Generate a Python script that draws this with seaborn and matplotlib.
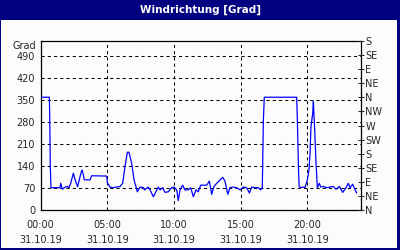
import matplotlib
matplotlib.use("Agg")
import matplotlib.pyplot as plt
from matplotlib.patches import Rectangle
from matplotlib.ticker import FixedLocator, MultipleLocator
import matplotlib.transforms as mtransforms
import seaborn as sns
import pandas as pd

title = "Windrichtung [Grad]"
y_unit = "Grad"
hours = [0, 0.65, 0.68, 0.72, 0.77, 1.0, 1.25, 1.45, 1.5, 1.62,
         1.83, 2.0, 2.12, 2.25, 2.45, 2.58, 2.77, 2.95, 3.07, 3.12,
         3.27, 3.7, 3.82, 4.95, 5.0, 5.2, 5.4, 5.95, 6.15, 6.32,
         6.5, 6.62, 6.82, 7.0, 7.25, 7.45, 7.7, 7.8, 8.05, 8.2,
         8.45, 8.82, 8.95, 9.15, 9.32, 9.57, 9.82, 10.0, 10.2, 10.32,
         10.45, 10.65, 10.82, 11.07, 11.25, 11.45, 11.65, 11.82, 12.0, 12.45,
         12.65, 12.82, 13.0, 13.2, 13.65, 13.82, 14.03, 14.2, 14.45, 14.7,
         14.95, 15.2, 15.45, 15.65, 15.82, 16.07, 16.32, 16.5, 16.62, 16.65,
         16.7, 16.77, 19.2, 19.25, 19.33, 19.38, 19.5, 19.7, 19.82, 20.0,
         20.12, 20.2, 20.27, 20.4, 20.45, 20.55, 20.65, 20.75, 20.9, 21.0,
         21.2, 21.45, 21.7, 21.95, 22.15, 22.4, 22.65, 22.9, 23.07, 23.2,
         23.4, 23.58, 23.7]
wind_deg = [360, 360, 288, 142, 72, 72, 72, 72, 86, 67,
            74, 76, 72, 86, 118, 97, 75, 107, 126, 128,
            97, 97, 110, 109, 88, 74, 72, 76, 86, 139,
            185, 185, 150, 97, 59, 74, 72, 65, 74, 65,
            43, 74, 65, 72, 57, 59, 72, 74, 65, 31,
            65, 80, 65, 65, 72, 43, 65, 59, 80, 80,
            93, 51, 76, 86, 105, 93, 51, 72, 74, 72,
            65, 74, 72, 55, 74, 72, 72, 65, 72, 150,
            287, 360, 360, 287, 140, 76, 72, 74, 72, 97,
            128, 181, 266, 309, 346, 255, 150, 72, 86, 74,
            76, 72, 74, 76, 67, 76, 57, 72, 86, 72,
            83, 65, 55]
left_ticks = [0, 70, 140, 210, 280, 350, 420, 490]
x_major = [0, 5, 10, 15, 20]
x_labels = ["00:00\n31.10.19", "05:00\n31.10.19", "10:00\n31.10.19",
            "15:00\n31.10.19", "20:00\n31.10.19"]
dir_ticks = [0, 45, 90, 135, 180, 225, 270, 315, 360, 405, 450, 495, 540]
dir_labels = ["N", "NE", "E", "SE", "S", "SW", "W", "NW", "N", "NE", "E", "SE", "S"]

sns.set_style("white")
plt.rcParams["font.family"] = ["DejaVu Sans"]
FS = 7

W, H = 400, 250
fig = plt.figure(figsize=(W / 100, H / 100), dpi=100)
navy = "#000080"
fig.patch.set_facecolor(navy)
# inner white panel
fig.add_artist(Rectangle((1 / W, 2 / H), (W - 4) / W, (H - 22) / H,
                         transform=fig.transFigure, facecolor="#FCFCFC",
                         edgecolor="none", zorder=0))
fig.text(0.5, 1 - 10 / H, title, color="white", fontsize=7.5,
         fontweight="bold", ha="center", va="center")

ax = fig.add_axes([40.7 / W, 1 - 210.3 / H, 320 / W, 169.6 / H])
ax.set_facecolor("none")
df = pd.DataFrame({"h": hours, "deg": wind_deg})
sns.lineplot(data=df, x="h", y="deg", ax=ax, color="#0000FF", lw=0.9,
             estimator=None, sort=False, zorder=3)
ax.set_xlim(0, 24)
ax.set_ylim(0, 540)
ax.set_xlabel("")
ax.set_ylabel("")

ax.set_yticks(left_ticks)
ax.set_yticklabels([str(v) for v in left_ticks], fontsize=FS)
ax.tick_params(axis="y", length=0, pad=4)
ax.xaxis.set_major_locator(FixedLocator(x_major))
ax.set_xticklabels(x_labels, fontsize=FS, linespacing=1.65)
ax.xaxis.set_minor_locator(MultipleLocator(1))
ax.tick_params(axis="x", which="both", direction="out", length=2.3,
               width=0.75, pad=4.5, color="black")
ax.grid(True, color="black", linestyle=(0, (3, 3)), linewidth=0.75)
for sp in ax.spines.values():
    sp.set_visible(True)
    sp.set_color("black")
    sp.set_linewidth(0.9)

trans = mtransforms.blended_transform_factory(ax.transAxes, ax.transData)
ax.text(-0.015, 540, y_unit, transform=trans, ha="right", va="top", fontsize=FS)

ax2 = ax.twinx()
ax2.set_ylim(0, 540)
ax2.set_yticks(dir_ticks)
ax2.set_yticklabels(dir_labels, fontsize=FS)
ax2.tick_params(axis="y", direction="inout", length=4.5, width=0.75, pad=1)
for sp in ax2.spines.values():
    sp.set_visible(False)

fig.savefig("out.png", dpi=100, facecolor=fig.get_facecolor())
